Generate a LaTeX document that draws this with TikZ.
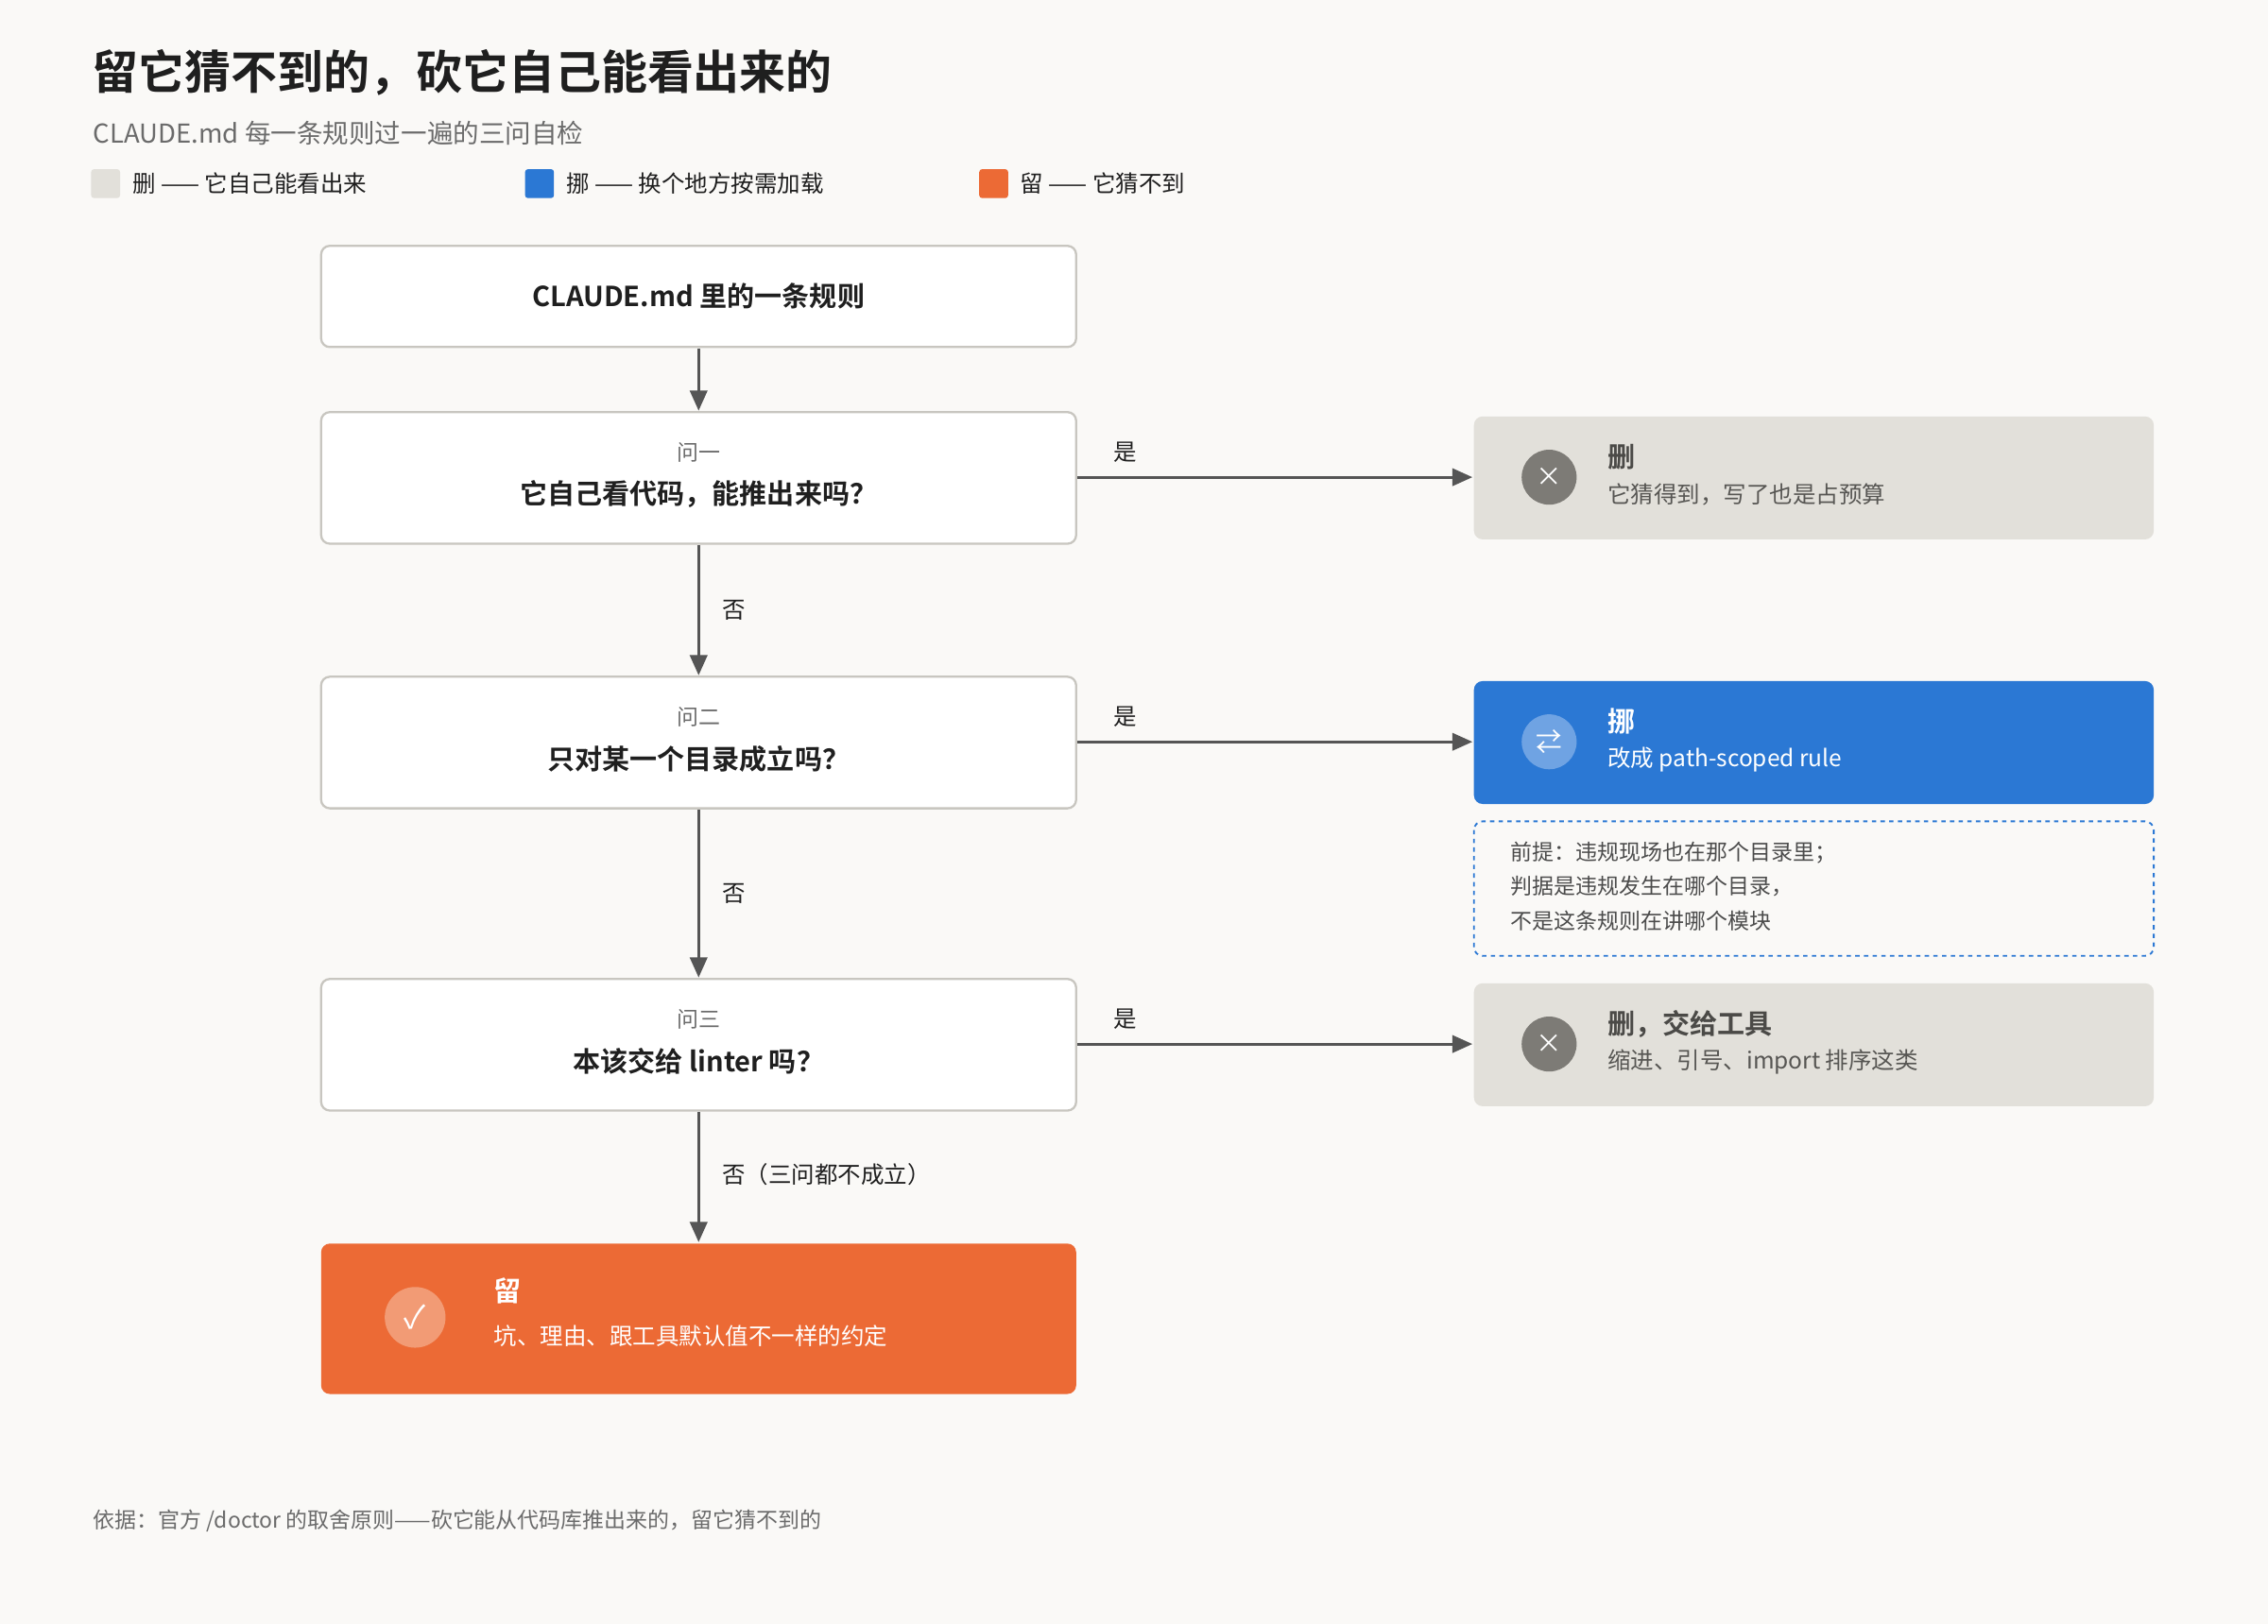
\documentclass[tikz,border=0pt]{standalone}
\usepackage{fontspec}
\setmainfont{Noto Sans CJK SC}[BoldFont={Noto Sans CJK SC Bold}]
\usetikzlibrary{arrows.meta}
\definecolor{bg}{HTML}{FAF9F7}
\definecolor{ink}{HTML}{1F1F1F}
\definecolor{mute}{HTML}{6B6B6B}
\definecolor{edge}{HTML}{C8C6C0}
\definecolor{graybox}{HTML}{E2E0DA}
\definecolor{graydot}{HTML}{7D7B76}
\definecolor{bluebox}{HTML}{2B78D4}
\definecolor{bluedot}{HTML}{6FA3E3}
\definecolor{orangebox}{HTML}{EC6A35}
\definecolor{orangedot}{HTML}{F29B75}
\definecolor{arr}{HTML}{555555}
\begin{document}
\begin{tikzpicture}[x=1pt, y=-1pt,
  q/.style = {draw=edge, line width=1.5pt, fill=white, rounded corners=6pt},
  outcome/.style = {rounded corners=6pt},
  flow/.style = {draw=arr, line width=2pt, -{Triangle[length=14pt, width=12pt]}},
  lab/.style = {font=\fontsize{16}{16}\selectfont, text=ink},
  small/.style = {font=\fontsize{15}{15}\selectfont, text=mute},
  main/.style = {font=\bfseries\fontsize{19}{19}\selectfont, text=ink},
  head/.style = {font=\bfseries\fontsize{19}{19}\selectfont, anchor=west},
  sub/.style = {font=\fontsize{16}{16}\selectfont, anchor=west}]
\fill[bg] (0,0) rectangle (1568,1123);
\useasboundingbox (0,0) rectangle (1568,1123);

% title and legend
\node[anchor=west, font=\bfseries\fontsize{32}{32}\selectfont, text=ink] (title) at (60,50) {留它猜不到的，砍它自己能看出来的};
\node[anchor=west, font=\fontsize{18}{18}\selectfont, text=mute] (subtitle) at (61,92) {CLAUDE.md 每一条规则过一遍的三问自检};
\fill[graybox, rounded corners=2pt] (63,117) rectangle (83,137);
\node[lab, anchor=west] (leg1) at (88,127) {删 —— 它自己能看出来};
\fill[bluebox, rounded corners=2pt] (363,117) rectangle (383,137);
\node[lab, anchor=west] (leg2) at (388,127) {挪 —— 换个地方按需加载};
\fill[orangebox, rounded corners=2pt] (677,117) rectangle (697,137);
\node[lab, anchor=west] (leg3) at (702,127) {留 —— 它猜不到};

% questions
\draw[q] (222,170) rectangle (744,240);
\node[main] (rule) at (483,205) {CLAUDE.md 里的一条规则};
\draw[q] (222,285) rectangle (744,376);
\node[small] at (483,313) {问一};
\node[main] at (483,342) {它自己看代码，能推出来吗？};
\draw[q] (222,468) rectangle (744,559);
\node[small] at (483,496) {问二};
\node[main] at (483,525) {只对某一个目录成立吗？};
\draw[q] (222,677) rectangle (744,768);
\node[small] at (483,705) {问三};
\node[main] at (483,734) {本该交给 linter 吗？};
\coordinate (r0b) at (483,241);
\coordinate (q1t) at (483,284);
\coordinate (q1b) at (483,377);
\coordinate (q2t) at (483,467);
\coordinate (q2b) at (483,560);
\coordinate (q3t) at (483,676);
\coordinate (q3b) at (483,769);
\coordinate (keept) at (483,859);
\coordinate (q1r) at (745,330);
\coordinate (q2r) at (745,513);
\coordinate (q3r) at (745,722);
\coordinate (d1) at (1018,330);
\coordinate (d2) at (1018,513);
\coordinate (d3) at (1018,722);

% outcomes
\fill[orangebox, outcome] (222,860) rectangle (744,964);
\fill[orangedot] (287,911) circle (21);
\node[text=white, font=\fontsize{22}{22}\selectfont] at (287,911) {✓};
\node[head, text=white] at (338,893) {留};
\node[sub, text=white] at (338,924) {坑、理由、跟工具默认值不一样的约定};

\fill[graybox, outcome] (1019,288) rectangle (1489,373);
\fill[graydot] (1071,330) circle (19);
\node[text=white, font=\fontsize{18}{18}\selectfont] at (1071,330) {×};
\node[head, text=graydot!60!black] at (1108,316) {删};
\node[sub, text=graydot!70!black] at (1108,342) {它猜得到，写了也是占预算};

\fill[bluebox, outcome] (1019,471) rectangle (1489,556);
\fill[bluedot] (1071,513) circle (19);
\node[text=white, font=\fontsize{18}{18}\selectfont] at (1071,513) {⇄};
\node[head, text=white] at (1108,499) {挪};
\node[sub, text=white] at (1108,525) {改成 path-scoped rule};

\draw[bluebox, line width=1.2pt, dashed, rounded corners=6pt] (1019,568) rectangle (1489,661);
\node[lab, anchor=west, font=\fontsize{15}{15}\selectfont, text=ink!80] at (1041,590) {前提：违规现场也在那个目录里；};
\node[lab, anchor=west, font=\fontsize{15}{15}\selectfont, text=ink!80] at (1041,613) {判据是违规发生在哪个目录，};
\node[lab, anchor=west, font=\fontsize{15}{15}\selectfont, text=ink!80] at (1041,637) {不是这条规则在讲哪个模块};

\fill[graybox, outcome] (1019,680) rectangle (1489,765);
\fill[graydot] (1071,722) circle (19);
\node[text=white, font=\fontsize{18}{18}\selectfont] at (1071,722) {×};
\node[head, text=graydot!60!black] at (1108,708) {删，交给工具};
\node[sub, text=graydot!70!black] at (1108,734) {缩进、引号、import 排序这类};

% connectors
\draw[flow] (r0b) -- (q1t);
\draw[flow] (q1b) -- node[lab, right=12pt] {否} (q2t);
\draw[flow] (q2b) -- node[lab, right=12pt] {否} (q3t);
\draw[flow] (q3b) -- node[lab, right=12pt, pos=0.48] {否（三问都不成立）} (keept);
\draw[flow] (q1r) -- node[lab, pos=0.12, above=6pt] {是} (d1);
\draw[flow] (q2r) -- node[lab, pos=0.12, above=6pt] {是} (d2);
\draw[flow] (q3r) -- node[lab, pos=0.12, above=6pt] {是} (d3);

\node[anchor=west, font=\fontsize{15}{15}\selectfont, text=mute] (foot) at (61,1052) {依据：官方 /doctor 的取舍原则——砍它能从代码库推出来的，留它猜不到的};
\end{tikzpicture}
\end{document}
